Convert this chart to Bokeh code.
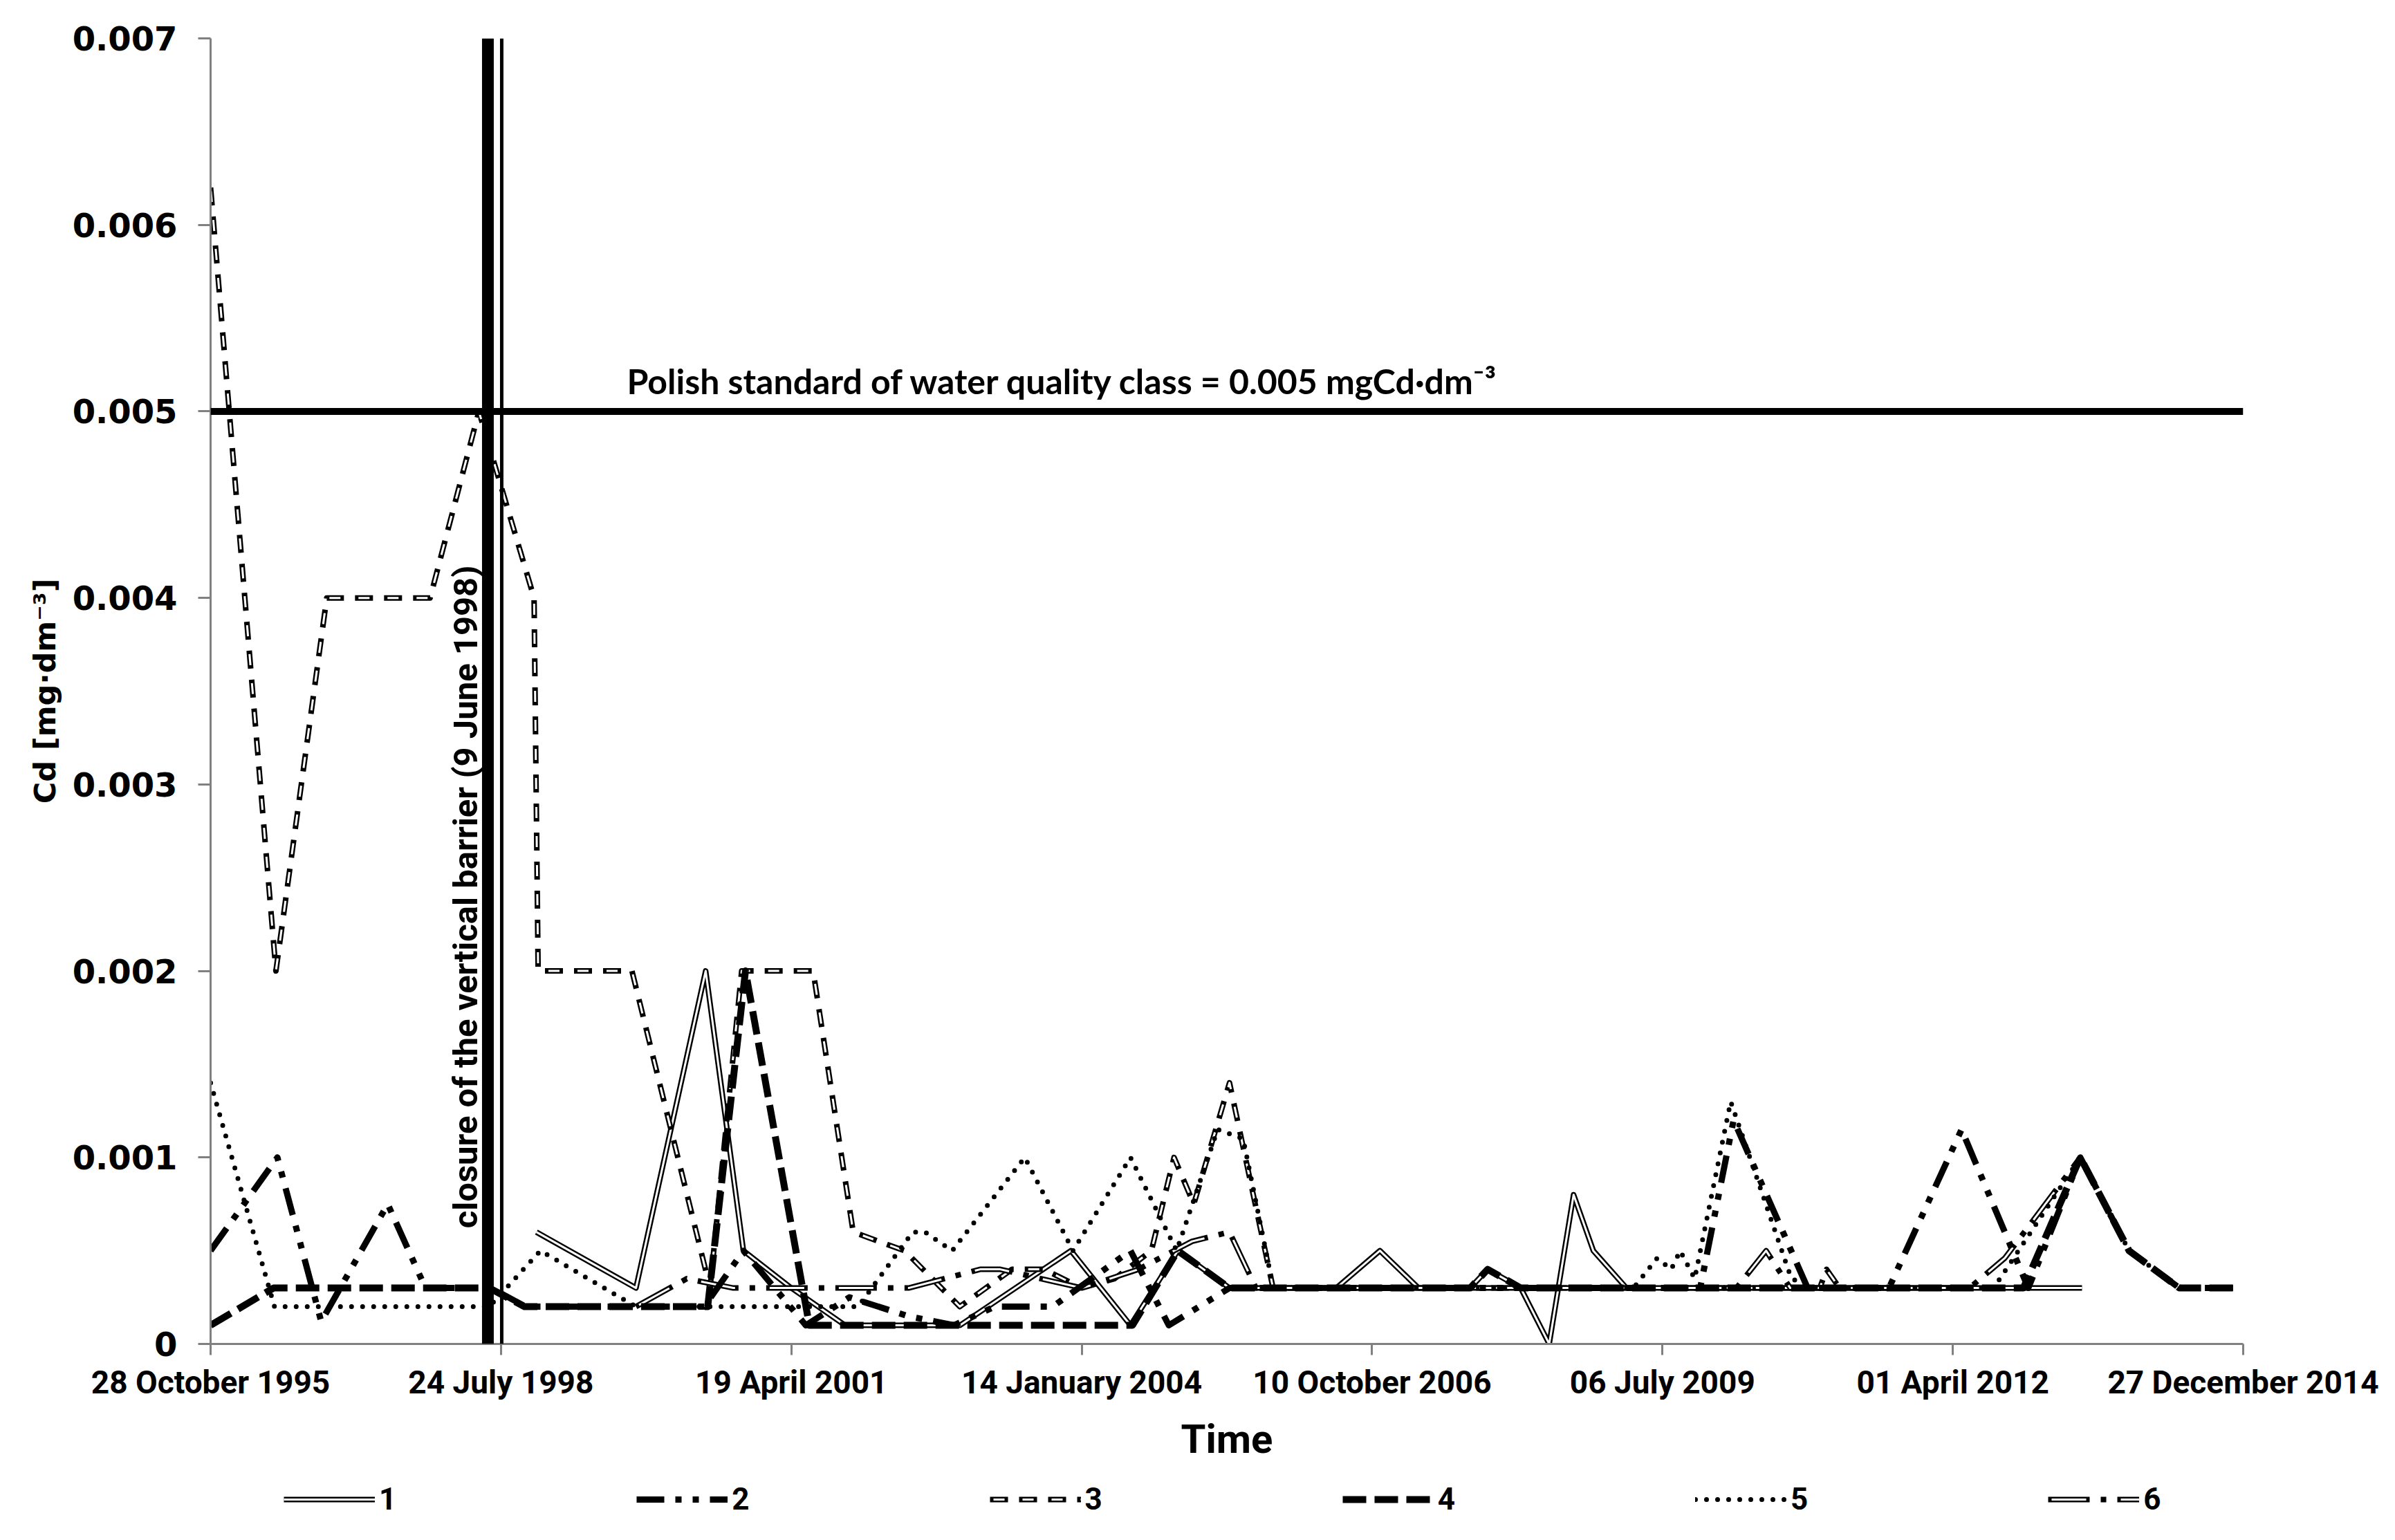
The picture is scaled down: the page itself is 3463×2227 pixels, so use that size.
import pandas as pd
from bokeh.plotting import figure
from bokeh.layouts import column
from bokeh.models import Range1d, FixedTicker, Span, Label, Legend, LegendItem
from bokeh.embed import file_html
from bokeh.resources import INLINE

# ---- data (x values are Excel serial dates, days since 1899-12-30) ----
tick_days = [35000, 36000, 37000, 38000, 39000, 40000, 41000, 42000]
tick_labels = ["28 October 1995", "24 July 1998", "19 April 2001", "14 January 2004",
               "10 October 2006", "06 July 2009", "01 April 2012", "27 December 2014"]
y_ticks = [0, 0.001, 0.002, 0.003, 0.004, 0.005, 0.006, 0.007]
y_tick_labels = ["0", "0.001", "0.002", "0.003", "0.004", "0.005", "0.006", "0.007"]

standard_value = 0.005
barrier_day = 35955          # 9 June 1998
std_label_day = 36434
barrier_label_value = 0.00062

s1_day = [36122, 36465, 36705, 36835, 37000, 37185, 37581, 37963, 38168, 38331, 38509,
          38877, 39027, 39160, 39338, 39398, 39512, 39610, 39694, 39762, 39876, 41445]
s1_val = [0.0006, 0.0003, 0.002, 0.0005, 0.0003, 0.0001, 0.0001, 0.0005, 0.0001, 0.0005, 0.0003,
          0.0003, 0.0005, 0.0003, 0.0003, 0.0004, 0.0003, 0.0, 0.0008, 0.0005, 0.0003, 0.0003]

s2_day = [35000, 35230, 35381, 35610, 35740, 35966, 36085, 36700, 36835, 37050, 37200, 37400,
          37560, 37700, 37900, 38168, 38300, 38509, 40130, 40245, 40500, 40780, 41030, 41260,
          41439, 41607, 41780, 41965]
s2_val = [0.0005, 0.001, 0.00012, 0.00075, 0.0003, 0.0003, 0.0002, 0.0002, 0.0005, 0.0001, 0.00025,
          0.00015, 0.0001, 0.0002, 0.0002, 0.0005, 0.0001, 0.0003, 0.0003, 0.0012, 0.0003, 0.0003,
          0.00115, 0.0003, 0.001, 0.0005, 0.0003, 0.0003]

s3_day = [35000, 35225, 35400, 35756, 35924, 36114, 36128, 36451, 36720, 36829, 37075, 37213,
          37390, 37580, 37760, 37870, 38000, 38113, 38240, 38318, 38386, 38509, 38659, 40542,
          40565, 40610, 41000]
s3_val = [0.0062, 0.002, 0.004, 0.004, 0.005, 0.004, 0.002, 0.002, 0.0003, 0.002, 0.002, 0.0006,
          0.0005, 0.0002, 0.0004, 0.0004, 0.0003, 0.00035, 0.0005, 0.001, 0.00075, 0.0014, 0.0003,
          0.0003, 0.0004, 0.0003, 0.0003]

s4_day = [35000, 35217, 35960, 36081, 36712, 36842, 37062, 38175, 38331, 38509, 39338, 39398,
          39512, 41243, 41439, 41607, 41780, 41965]
s4_val = [0.0001, 0.0003, 0.0003, 0.0002, 0.0002, 0.002, 0.0001, 0.0001, 0.0005, 0.0003, 0.0003,
          0.0004, 0.0003, 0.0003, 0.001, 0.0005, 0.0003, 0.0003]

s5_day = [35000, 35220, 35960, 36136, 36465, 37230, 37418, 37460, 37554, 37804, 37970, 38168,
          38327, 38468, 38556, 38660, 39900, 39982, 40030, 40061, 40111, 40235, 40444, 40530,
          41141, 41439, 41607, 41780, 41965]
s5_val = [0.0014, 0.0002, 0.0002, 0.0005, 0.0002, 0.0002, 0.0006, 0.0006, 0.0005, 0.001, 0.0005,
          0.001, 0.0005, 0.00115, 0.0011, 0.0003, 0.0003, 0.00046, 0.0004, 0.0005, 0.00035, 0.0013,
          0.00035, 0.0003, 0.0003, 0.001, 0.0005, 0.0003, 0.0003]

s6_day = [36465, 36640, 36800, 37213, 37404, 37650, 37720, 38000, 38195, 38380, 38509, 38600,
          40255, 40357, 40440, 41057, 41179, 41439]
s6_val = [0.0002, 0.00035, 0.0003, 0.0003, 0.0003, 0.0004, 0.0004, 0.0003, 0.0004, 0.00055,
          0.0006, 0.0003, 0.0003, 0.0005, 0.0003, 0.0003, 0.00046, 0.001]

series_names = ["1", "2", "3", "4", "5", "6"]


def to_ms(days):
    idx = pd.to_datetime(pd.Series(days, dtype="float64"), unit="D", origin="1899-12-30")
    return (idx.astype("int64") // 10**6).astype("int64").tolist()


tick_ms = to_ms(tick_days)
x0, x1 = tick_ms[0], tick_ms[-1]

FRAME_W = 2939
p = figure(width=3447, height=2120, x_axis_type="datetime",
           x_range=Range1d(x0, x1), y_range=Range1d(0, 0.007),
           output_backend="svg", toolbar_location=None,
           min_border_left=304, min_border_right=204, min_border_top=55, min_border_bottom=177)
p.background_fill_color = "white"
p.border_fill_color = "white"
p.outline_line_color = None
p.grid.visible = False

AX = "#808080"
# x axis
xa = p.xaxis[0]
xa.ticker = FixedTicker(ticks=tick_ms)
xa.major_label_overrides = {int(t): lab for t, lab in zip(tick_ms, tick_labels)}
xa.major_label_text_font = "Roboto"
xa.major_label_text_font_style = "bold"
xa.major_label_text_font_size = "46px"
xa.major_label_text_color = "black"
xa.major_label_standoff = 12
xa.axis_line_color = AX
xa.axis_line_width = 3
xa.major_tick_line_color = AX
xa.major_tick_line_width = 3
xa.major_tick_out = 16
xa.major_tick_in = 0
xa.minor_tick_line_color = None
xa.axis_label = "Time"
xa.axis_label_text_font = "Roboto"
xa.axis_label_text_font_style = "bold"
xa.axis_label_text_font_size = "58px"
xa.axis_label_text_color = "black"
xa.axis_label_standoff = 18

# y axis
ya = p.yaxis[0]
ya.ticker = FixedTicker(ticks=y_ticks)
ya.major_label_overrides = {t: lab for t, lab in zip(y_ticks, y_tick_labels)}
ya.major_label_text_font = "DejaVu Sans"
ya.major_label_text_font_style = "bold"
ya.major_label_text_font_size = "48px"
ya.major_label_text_color = "black"
ya.major_label_standoff = 30
ya.axis_line_color = AX
ya.axis_line_width = 3
ya.major_tick_line_color = AX
ya.major_tick_line_width = 3
ya.major_tick_out = 18
ya.major_tick_in = 0
ya.minor_tick_line_color = None
ya.axis_label = "Cd [mg·dm⁻³]"
ya.axis_label_text_font = "DejaVu Sans"
ya.axis_label_text_font_style = "bold"
ya.axis_label_text_font_size = "43px"
ya.axis_label_text_color = "black"
ya.axis_label_standoff = 12

# reference lines
p.add_layout(Span(location=standard_value, dimension="width", line_color="black", line_width=10))
ms_per_px = (x1 - x0) / FRAME_W
barrier_ms = to_ms([barrier_day])[0]
p.add_layout(Span(location=barrier_ms, dimension="height", line_color="black", line_width=17))
p.add_layout(Span(location=barrier_ms + 20 * ms_per_px, dimension="height",
                  line_color="black", line_width=5))

# line styles per series: list of (colour, width, dash, cap)
STYLES = {
    "1": [("black", 8, "solid", "butt"), ("white", 3, "solid", "butt")],
    "2": [("black", 9, "40 16 9 16 9 16", "butt")],
    "3": [("black", 8, "26 16", "butt"), ("white", 3, "0 5 16 21", "butt")],
    "4": [("black", 10, "34 12", "butt")],
    "5": [("black", 7, "0 16", "round")],
    "6": [("black", 8, "60 16 8 16", "butt"), ("white", 3, "0 5 50 45", "butt")],
}


def draw(fig, name, xs, ys):
    return [fig.line(xs, ys, line_color=c, line_width=w, line_dash=d, line_cap=cap,
                     line_join="round") for c, w, d, cap in STYLES[name]]


data = {"1": (s1_day, s1_val), "2": (s2_day, s2_val), "3": (s3_day, s3_val),
        "4": (s4_day, s4_val), "5": (s5_day, s5_val), "6": (s6_day, s6_val)}
# drawing order: double-lined series first, heavy black ones on top
for name in ["1", "3", "6", "5", "2", "4"]:
    d, v = data[name]
    draw(p, name, to_ms(d), v)

p.add_layout(Label(x=to_ms([std_label_day])[0], y=standard_value, y_offset=14,
                   text="Polish standard of water quality class = 0.005  mgCd·dm⁻³",
                   text_font="Lato", text_font_style="bold", text_font_size="50px",
                   text_color="black", text_baseline="bottom", text_align="left"))
p.add_layout(Label(x=barrier_ms - 32 * ms_per_px, y=barrier_label_value,
                   text="closure of the vertical barrier (9 June 1998)", angle=1.5707963,
                   text_font="Roboto", text_font_style="bold", text_font_size="49px",
                   text_color="black", text_baseline="middle", text_align="left"))

# ---- legend strip (separate panel under the chart; its renderers hold no data points,
#      they only supply the legend samples) ----
LEG_H = 107
pl = figure(width=3447, height=LEG_H, x_range=Range1d(0, 1), y_range=Range1d(0, 1),
            output_backend="svg", toolbar_location=None,
            x_axis_location=None, y_axis_location=None, min_border=0)
pl.outline_line_color = None
pl.grid.visible = False
pl.background_fill_color = "white"
pl.border_fill_color = "white"
nan = float("nan")
items = [LegendItem(label=n, renderers=draw(pl, n, [nan], [nan])) for n in series_names]
legend = Legend(items=items, orientation="horizontal", location=(106, 33))
legend.glyph_width = 132
legend.glyph_height = 50
legend.label_height = 50
legend.label_standoff = 6
legend.spacing = 347
legend.padding = 0
legend.margin = 0
legend.border_line_color = None
legend.background_fill_alpha = 0
legend.label_text_font = "Roboto"
legend.label_text_font_style = "bold"
legend.label_text_font_size = "44px"
legend.label_text_color = "black"
pl.add_layout(legend)

layout = column(p, pl, spacing=0)
open("out.html", "w").write(file_html(layout, INLINE))
